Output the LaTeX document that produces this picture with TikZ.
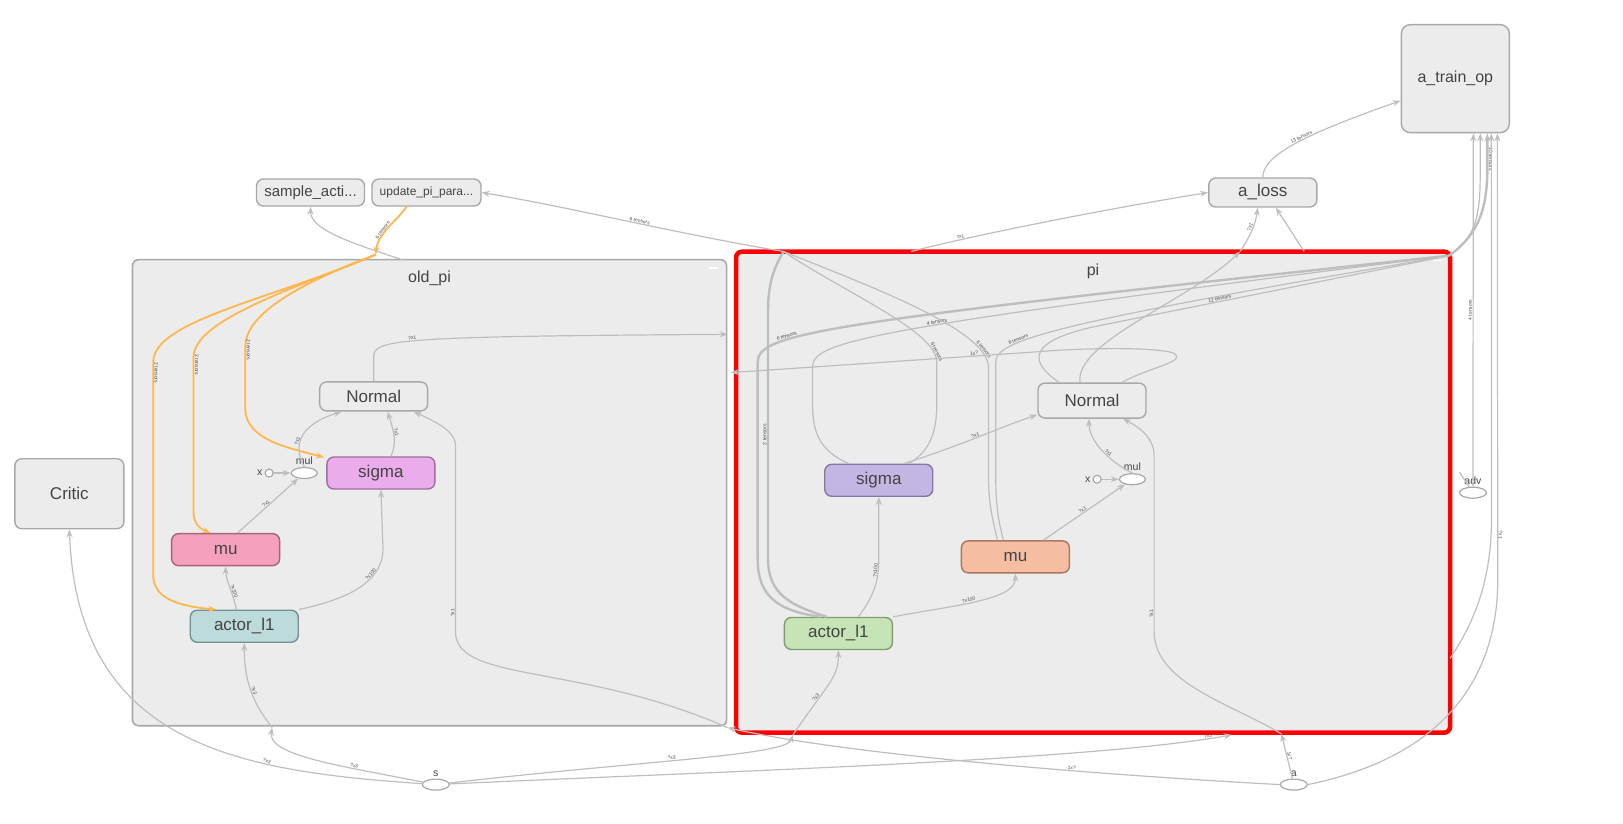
\documentclass[tikz,border=0pt]{standalone}
\usepackage{fontspec}
\setmainfont{Liberation Sans}
\usepackage{xcolor}
\usepackage{tikz}
\usetikzlibrary{positioning,arrows.meta,shapes.geometric}

\definecolor{edgegray}{RGB}{190,190,190}
\definecolor{nodefill}{RGB}{236,236,236}
\definecolor{nodeline}{RGB}{168,168,168}
\definecolor{txtgray}{RGB}{68,68,68}
\definecolor{assignorange}{RGB}{255,183,77}
\definecolor{oldsigma}{RGB}{234,172,234}
\definecolor{oldsigmaline}{RGB}{160,110,160}
\definecolor{oldmu}{RGB}{245,160,188}
\definecolor{oldmuline}{RGB}{165,100,125}
\definecolor{oldactor}{RGB}{189,219,219}
\definecolor{oldactorline}{RGB}{115,145,145}
\definecolor{pisigma}{RGB}{196,182,226}
\definecolor{pisigmaline}{RGB}{135,118,165}
\definecolor{pimu}{RGB}{245,190,162}
\definecolor{pimuline}{RGB}{170,120,95}
\definecolor{piactor}{RGB}{198,228,182}
\definecolor{piactorline}{RGB}{125,160,110}

\tikzset{
  opnode/.style={draw=nodeline, fill=nodefill, rounded corners=7pt, line width=1.4pt,
    minimum width=108pt, minimum height=32pt, inner sep=0pt, text=txtgray,
    font=\fontsize{17}{19}\selectfont},
  groupbox/.style={draw=nodeline, fill=nodefill, rounded corners=6pt, line width=1.6pt, inner sep=0pt},
  grouptitle/.style={text=txtgray, font=\fontsize{16}{18}\selectfont},
  mulnode/.style={ellipse, draw=nodeline, fill=white, line width=1.2pt, minimum width=26pt,
    minimum height=11pt, inner sep=0pt},
  inputdot/.style={circle, draw=nodeline, fill=white, line width=1.2pt, minimum size=8pt, inner sep=0pt},
  smalltext/.style={text=txtgray, font=\fontsize{10.5}{12}\selectfont, inner sep=1pt},
  edge/.style={draw=edgegray, line width=1.2pt, -{Stealth[length=8pt,width=6pt]}},
  thickedge/.style={edge, line width=2.4pt},
  plainedge/.style={draw=edgegray, line width=1.2pt},
  thickplain/.style={plainedge, line width=2.4pt},
  assign/.style={draw=assignorange, line width=1.8pt, -{Stealth[length=8pt,width=6pt]}},
  elabel/.style={sloped, text=gray!60!black, font=\fontsize{5}{5.5}\selectfont, inner sep=0.5pt}
}

\begin{document}
\begin{tikzpicture}[x=1.035pt,y=-1.035pt]
\useasboundingbox (0,0) rectangle (1568,796);

% groups
\node[groupbox, minimum width=594pt, minimum height=466pt] (oldpi) at (415,476) {};
\node[groupbox, draw=red, line width=4.5pt, minimum width=714pt, minimum height=481pt] (pi) at (1056,475.5) {};
\node[grouptitle] (oldpititle) at (415,269) {old\_pi};
\node[grouptitle] (pititle) at (1056,262) {pi};
\draw[white, line width=1.2pt] (685,259) -- (694,259);
\draw[white, line width=1.2pt] (1384,252) -- (1393,252);

% top level nodes
\node[opnode, minimum height=108pt, rounded corners=9pt, font=\fontsize{16}{18}\selectfont] (atrain) at (1406,76) {a\_train\_op};
\node[opnode, minimum height=29pt] (aloss) at (1220,186) {a\_loss};
\node[opnode, minimum height=27pt, font=\fontsize{15}{17}\selectfont] (sample) at (300,186) {sample\_acti...};
\node[opnode, minimum width=109pt, minimum height=27pt, font=\fontsize{12}{14}\selectfont] (update) at (412,186) {update\_pi\_para...};
\node[opnode, minimum width=109pt, minimum height=70pt] (critic) at (67,477) {Critic};

% old_pi
\node[opnode, minimum height=29pt] (onormal) at (361,383) {Normal};
\node[opnode, fill=oldsigma, draw=oldsigmaline] (osigma) at (368,457) {sigma};
\node[mulnode] (omul) at (294,457) {};
\node[smalltext, above=1pt of omul] (omullabel) {mul};
\node[inputdot] (ox) at (260,457) {};
\node[smalltext, left=1pt of ox] (oxlabel) {x};
\node[opnode, fill=oldmu, draw=oldmuline] (omu) at (218,531) {mu};
\node[opnode, fill=oldactor, draw=oldactorline] (oactor) at (236,605) {actor\_l1};

% pi
\node[opnode, minimum height=35pt] (pnormal) at (1055,387) {Normal};
\node[opnode, fill=pisigma, draw=pisigmaline] (psigma) at (849,464) {sigma};
\node[mulnode] (pmul) at (1094,463) {};
\node[smalltext, above=1pt of pmul] (pmullabel) {mul};
\node[inputdot] (px) at (1060,463) {};
\node[smalltext, left=1pt of px] (pxlabel) {x};
\node[opnode, fill=pimu, draw=pimuline] (pmu) at (981,538) {mu};
\node[opnode, fill=piactor, draw=piactorline] (pactor) at (810,612) {actor\_l1};

% inputs
\node[mulnode, minimum width=27pt] (adv) at (1423,476) {};
\node[smalltext, above=1pt of adv] (advlabel) {adv};
\node[mulnode, minimum width=27pt] (s) at (421,758) {};
\node[smalltext, above=1pt of s] (slabel) {s};
\node[mulnode, minimum width=27pt] (a) at (1250,758) {};
\node[smalltext, above=1pt of a] (alabel) {a};

% bend points on the group borders
\coordinate (oknot) at (363,246);
\coordinate (pknot) at (757,243);
\coordinate (ptr) at (1400,247);
\coordinate (oldtop) at (389,251);
\coordinate (pitopa) at (880,243);
\coordinate (pitopb) at (1260,243);
\coordinate (pitopn) at (1198,243);
\coordinate (oinb) at (263,703);
\coordinate (pinb) at (766,710);
\coordinate (pinbs) at (1190,710);
\coordinate (pinba) at (1238,709);
\coordinate (oincorner) at (703,703);
\coordinate (piinl) at (703,323);
\coordinate (oinr) at (706,360);
\coordinate (pibr) at (1401,636);
\coordinate (piadv) at (1410,456);

% assign edges
\draw[assign] ([xshift=-20pt]update.south) .. controls (385,212) and (365,225) .. (oknot) node[elabel, pos=0.6, above]{6 tensors};
\draw[assign] (oknot) .. controls (260,290) and (148,310) .. (148,350) -- node[elabel, pos=0.05, above]{2 tensors} (148,555) .. controls (148,575) and (165,585) .. ([xshift=-28pt]oactor.north);
\draw[assign] (oknot) .. controls (280,280) and (187,310) .. (187,345) -- node[elabel, pos=0.05, above]{2 tensors} (187,495) .. controls (187,508) and (196,512) .. ([xshift=-15pt]omu.north);
\draw[assign] (oknot) .. controls (300,270) and (237,300) .. (237,335) -- node[elabel, pos=0.05, above]{2 tensors} (237,395) .. controls (237,425) and (280,433) .. ([xshift=-2pt,yshift=-1pt]osigma.north west);

% old_pi
\draw[edge] ([xshift=-8pt]oactor.north) .. controls (226,575) and (218,560) .. (omu.south) node[elabel, pos=0.4, above]{?x100};
\draw[edge] (oactor.north east) .. controls (330,580) and (370,565) .. (370,530) node[elabel, pos=0.7, above]{?x100} -- (osigma.south);
\draw[edge] ([xshift=12pt]omu.north) -- (omul) node[elabel, pos=0.5, above]{?x1};
\draw[edge] (ox) -- (omul);
\draw[edge] (omul.north) .. controls (282,430) and (290,410) .. ([xshift=-32pt]onormal.south) node[elabel, pos=0.4, above]{?x1};
\draw[edge] ([xshift=10pt]osigma.north) .. controls (385,425) and (378,410) .. ([xshift=14pt]onormal.south) node[elabel, pos=0.5, above]{?x1};
\draw[edge] (onormal.north) -- (361,345) .. controls (361,328) and (380,325) .. (piinl) node[elabel, pos=0.45, above]{?x1};
\draw[edge] (oldtop) .. controls (340,235) and (300,222) .. (sample.south);

% pi
\draw[edge] ([xshift=20pt]pactor.north) .. controls (845,575) and (849,560) .. (849,540) node[elabel, pos=0.8, above]{?x100} -- (psigma.south);
\draw[edge] (pactor.north east) .. controls (920,585) and (981,580) .. (pmu.south) node[elabel, pos=0.45, above]{?x100};
\draw[edge] ([xshift=25pt]psigma.north) .. controls (930,430) and (960,415) .. ([yshift=4pt]pnormal.south west) node[elabel, pos=0.5, above]{?x1};
\draw[edge] ([xshift=28pt]pmu.north) -- (pmul) node[elabel, pos=0.5, above]{?x1};
\draw[edge] (px) -- (pmul);
\draw[edge] (pmul.north) .. controls (1070,445) and (1052,425) .. ([xshift=-3pt]pnormal.south) node[elabel, pos=0.4, above]{?x1};

% pi variables
\draw[edge] (pknot) .. controls (650,225) and (550,200) .. (update.east) node[elabel, pos=0.45, above]{6 tensors};
\draw[thickplain] ([xshift=-12pt]pactor.north) .. controls (765,585) and (742,575) .. (742,540) -- node[elabel, pos=0.5, above]{2 tensors} (742,300) .. controls (742,270) and (750,255) .. (pknot);
\draw[thickplain] ([xshift=-18pt]pactor.north) .. controls (750,590) and (732,575) .. (732,540) -- (732,350) .. controls (732,322) and (790,312) .. (ptr) node[elabel, pos=0.3, above]{6 tensors};
\draw[plainedge] ([xshift=-30pt]psigma.north) .. controls (790,435) and (785,415) .. (785,390) -- (785,355) .. controls (785,330) and (830,318) .. (ptr) node[elabel, pos=0.55, above]{4 tensors};
\draw[plainedge] ([xshift=30pt]psigma.north) .. controls (900,435) and (905,415) .. (905,390) -- (905,350) .. controls (905,320) and (820,285) .. (pknot) node[elabel, pos=0.1, above]{6 tensors};
\draw[plainedge] ([xshift=-18pt]pmu.north) .. controls (960,505) and (955,490) .. (955,460) -- (955,355) .. controls (955,320) and (850,280) .. (pknot) node[elabel, pos=0.15, above]{6 tensors};
\draw[plainedge] ([xshift=-12pt]pmu.north) .. controls (965,505) and (962,490) .. (962,460) -- (962,350) .. controls (962,328) and (1020,312) .. (ptr) node[elabel, pos=0.3, above]{6 tensors};
\draw[plainedge] ([xshift=-33pt]pnormal.north) .. controls (995,350) and (990,330) .. (1060,315) -- (ptr) node[elabel, pos=0.35, above]{12 tensors};
\draw[edge] ([xshift=-12pt]pnormal.north) .. controls (1038,330) and (1150,290) .. (pitopn);
\draw[edge] (pitopn) .. controls (1210,225) and (1213,215) .. ([xshift=-5pt]aloss.south) node[elabel, pos=0.5, above]{?x1};
\draw[edge] ([xshift=30pt]pnormal.north) .. controls (1110,355) and (1145,350) .. (1135,342) .. controls (1128,336) and (1060,335) .. (1000,340) -- (oinr) node[elabel, pos=0.2, above]{1x?};

% to a_train_op
\draw[thickedge] (ptr) .. controls (1430,225) and (1437,200) .. (1437,160) -- ([xshift=32pt]atrain.south) node[elabel, pos=0.2, above]{10 tensors};
\draw[edge] (ptr) .. controls (1425,230) and (1430,210) .. (1430,170) -- ([xshift=25pt]atrain.south);
\draw[edge] (adv.north) -- ([xshift=18pt]atrain.south) node[elabel, pos=0.5, above]{4 tensors};
\draw[plainedge] (adv) -- (piadv);
\draw[edge] (pibr) .. controls (1425,600) and (1441,560) .. (1441,500) -- ([xshift=36pt]atrain.south);
\draw[edge] (a.east) .. controls (1400,730) and (1447,650) .. (1447,560) -- node[elabel, pos=0.1, above]{?x1} ([xshift=42pt]atrain.south);
\draw[edge] (aloss.north) .. controls (1220,150) and (1260,130) .. ([yshift=-22pt]atrain.west) node[elabel, pos=0.55, above]{13 tensors};
\draw[edge] (pitopb) -- ([xshift=13pt]aloss.south);
\draw[edge] (pitopa) .. controls (950,225) and (1080,200) .. (aloss.west) node[elabel, pos=0.2, above]{?x1};

% inputs
\draw[edge] (s) .. controls (330,740) and (258,730) .. (oinb) node[elabel, pos=0.3, above]{?x3};
\draw[edge] (oinb) .. controls (245,680) and (236,660) .. (oactor.south) node[elabel, pos=0.5, above]{?x3};
\draw[edge] (s) .. controls (230,745) and (75,720) .. (critic.south) node[elabel, pos=0.3, above]{?x3};
\draw[edge] (s) .. controls (620,735) and (760,730) .. (pinb) node[elabel, pos=0.45, above]{?x3};
\draw[edge] (pinb) .. controls (800,660) and (810,655) .. (pactor.south) node[elabel, pos=0.3, above]{?x3};
\draw[edge] (s) .. controls (700,745) and (1050,735) .. (pinbs) node[elabel, pos=0.95, above]{?x3};
\draw[edge] (a) -- (pinba) node[elabel, pos=0.5, above]{1x?};
\draw[edge] (pinba) .. controls (1190,680) and (1115,660) .. (1115,610) -- node[elabel, pos=0.1, above]{?x1} (1115,440) .. controls (1115,420) and (1095,410) .. ([xshift=31pt]pnormal.south);
\draw[edge] (a.west) .. controls (1000,745) and (800,725) .. (oincorner) node[elabel, pos=0.3, above]{1x?};
\draw[edge] (oincorner) .. controls (560,640) and (440,660) .. (440,610) -- node[elabel, pos=0.1, above]{?x1} (440,430) .. controls (440,415) and (415,405) .. ([xshift=40pt]onormal.south);
\end{tikzpicture}
\end{document}
